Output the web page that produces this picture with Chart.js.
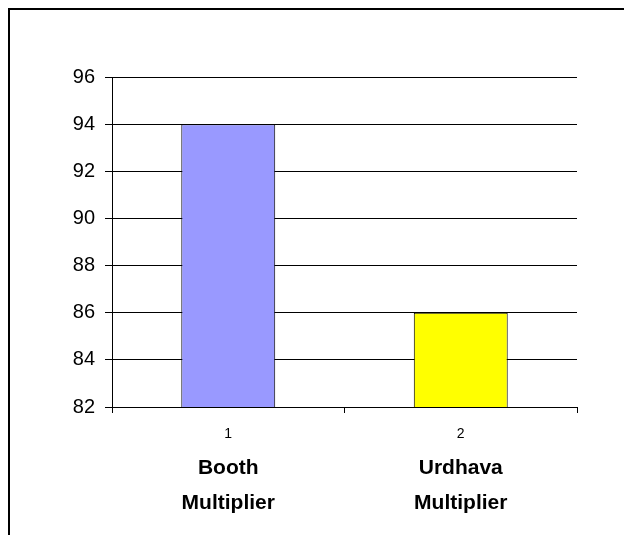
<!DOCTYPE html>
<html>
<head>
<meta charset="utf-8">
<script src="https://cdn.jsdelivr.net/npm/chart.js@4/dist/chart.umd.min.js"></script>
<style>
  html, body { margin: 0; padding: 0; background: #fff; }
  #wrap { position: relative; width: 624px; height: 535px; overflow: hidden; }
  #frame { position: absolute; left: 8px; top: 8px; width: 700px; height: 600px;
           border-top: 2px solid #000; border-left: 2px solid #000; pointer-events: none; }
  canvas { position: absolute; left: 0; top: 0; }
</style>
</head>
<body>
<div id="wrap">
  <div id="frame"></div>
  <canvas id="c" width="624" height="535"></canvas>
</div>
<script>
// Category index labels and their multiplier names
const categories = ['1', '2'];
const names = [['Booth', 'Multiplier'], ['Urdhava', 'Multiplier']];
// Values per multiplier
const values = [94, 86];
const barColors = ['#9999FF', '#FFFF00'];
// Value axis
const yMin = 82, yMax = 96, yStep = 2;

const FONT = "'Liberation Sans', Arial, sans-serif";

new Chart(document.getElementById('c'), {
  type: 'bar',
  data: {
    labels: categories,
    datasets: [{
      data: values,
      backgroundColor: barColors,
      borderColor: '#000',
      borderWidth: 1,
      borderSkipped: false,
      barPercentage: 0.404,
      categoryPercentage: 1
    }]
  },
  options: {
    responsive: false,
    animation: false,
    events: [],
    layout: { padding: { left: 0, top: 77, right: 47, bottom: 0 } },
    plugins: { legend: { display: false }, tooltip: { enabled: false } },
    scales: {
      x: {
        position: 'bottom',
        offset: true,
        grid: { display: true, offset: true, drawOnChartArea: false, color: '#000', lineWidth: 1, tickLength: 6 },
        border: { display: true, color: '#000', width: 1 },
        ticks: { color: '#000', padding: 13, font: { family: FONT, size: 14 } },
        afterFit: s => { s.height = 35; }
      },
      x2: {
        type: 'category',
        position: 'bottom',
        offset: true,
        labels: names,
        grid: { display: false, drawTicks: false },
        border: { display: false },
        ticks: { color: '#000', padding: 9, font: { family: FONT, size: 21, weight: 'bold', lineHeight: 1.67 } },
        afterFit: s => { s.height = 93; }
      },
      y: {
        min: yMin,
        max: yMax,
        grid: { color: '#000', lineWidth: 1, tickLength: 7 },
        border: { display: true, color: '#000', width: 1 },
        ticks: { stepSize: yStep, color: '#000', padding: 10, font: { family: FONT, size: 20 } },
        afterFit: s => { s.width = 112; }
      }
    }
  }
});
</script>
</body>
</html>
